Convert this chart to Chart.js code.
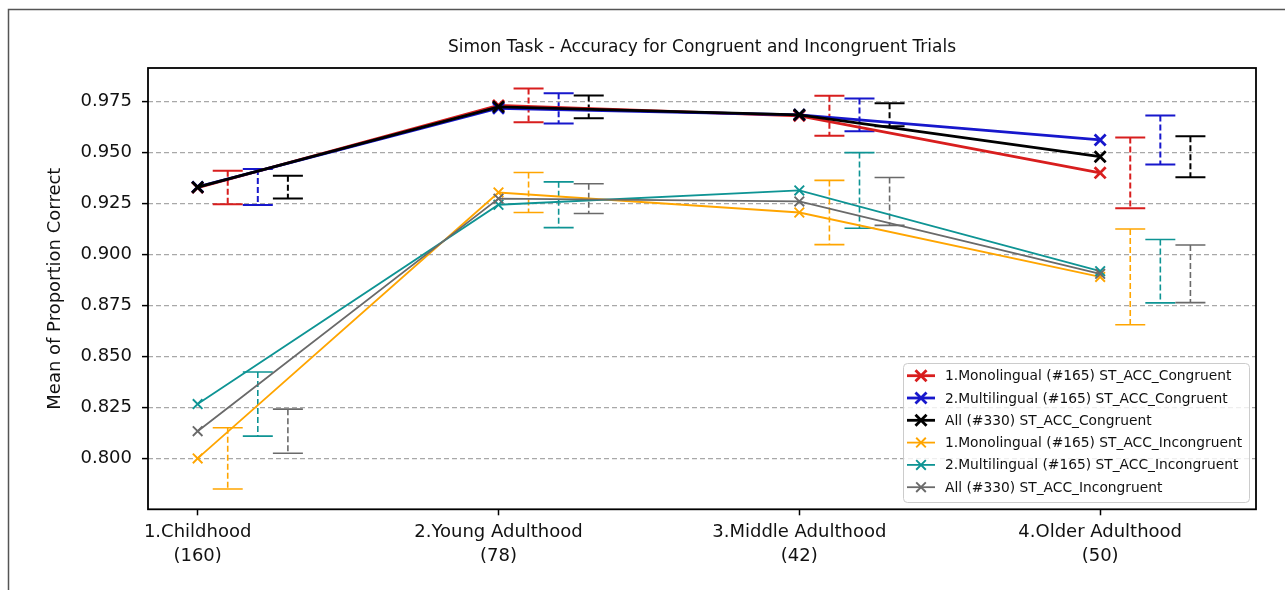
<!DOCTYPE html>
<html>
<head>
<meta charset="utf-8">
<script src="https://cdn.jsdelivr.net/npm/chart.js@4.4.0/dist/chart.umd.min.js"></script>
<style>
  html, body { margin: 0; padding: 0; background: #fff; }
  #wrap { width: 1285px; height: 590px; }
</style>
</head>
<body>
<div id="wrap"><canvas id="simonChart" width="1285" height="590"></canvas></div>
<script>
// Age groups on the x axis (name, group size)
const ageGroups = [
    ['1.Childhood', '(160)'],
    ['2.Young Adulthood', '(78)'],
    ['3.Middle Adulthood', '(42)'],
    ['4.Older Adulthood', '(50)']
];

// Mean proportion correct - congruent trials
const monoCongruent = [0.9327, 0.9729, 0.9678, 0.9399];
const multiCongruent = [0.9330, 0.9715, 0.9683, 0.9560];
const allCongruent = [0.9329, 0.9722, 0.9683, 0.9478];

// Mean proportion correct - incongruent trials
const monoIncongruent = [0.8002, 0.9303, 0.9205, 0.8890];
const multiIncongruent = [0.8268, 0.9243, 0.9313, 0.8918];
const allIncongruent = [0.8135, 0.9273, 0.9259, 0.8905];

// Half length of the error bars
const monoCongruentErr = [0.0082, 0.0083, 0.0098, 0.0173];
const multiCongruentErr = [0.0088, 0.0074, 0.0080, 0.0120];
const allCongruentErr = [0.0056, 0.0056, 0.0056, 0.0100];
const monoIncongruentErr = [0.0150, 0.0098, 0.0157, 0.0234];
const multiIncongruentErr = [0.0157, 0.0112, 0.0185, 0.0155];
const allIncongruentErr = [0.0108, 0.0073, 0.0117, 0.0141];

const yTicks = [0.800, 0.825, 0.850, 0.875, 0.900, 0.925, 0.950, 0.975];

const FONT = "'DejaVu Sans', sans-serif";

// Build one line dataset
function makeSeries(label, values, errors, color, shift, thick, order) {
    return {
        label: label,
        data: values.map((v, i) => ({ x: i, y: v })),
        errors: errors,
        errShift: shift,
        borderColor: color,
        backgroundColor: color,
        borderWidth: thick ? 2.8 : 1.8,
        pointStyle: 'crossRot',
        pointRadius: thick ? 7.8 : 6.8,
        pointHoverRadius: thick ? 7.8 : 6.8,
        pointBorderWidth: thick ? 2.8 : 1.9,
        pointBorderColor: color,
        tension: 0,
        fill: false,
        order: order
    };
}

// Error bars, drawn next to each point (dashed stem, solid caps)
const errorBarPlugin = {
    id: 'errorBars',
    beforeDatasetsDraw(chart) {
        let ctx = chart.ctx;
        let xs = chart.scales.x, ys = chart.scales.y;
        chart.data.datasets.forEach(ds => {
            ctx.save();
            ctx.strokeStyle = ds.borderColor;
            ctx.lineWidth = ds.borderWidth > 2 ? 2 : 1.6;
            ds.data.forEach((p, i) => {
                let x = xs.getPixelForValue(p.x + ds.errShift);
                let yTop = ys.getPixelForValue(p.y + ds.errors[i]);
                let yBot = ys.getPixelForValue(p.y - ds.errors[i]);
                ctx.setLineDash([6, 3]);
                ctx.beginPath();
                ctx.moveTo(x, yTop);
                ctx.lineTo(x, yBot);
                ctx.stroke();
                ctx.setLineDash([]);
                ctx.beginPath();
                ctx.moveTo(x - 15, yTop); ctx.lineTo(x + 15, yTop);
                ctx.moveTo(x - 15, yBot); ctx.lineTo(x + 15, yBot);
                ctx.stroke();
            });
            ctx.restore();
        });
    }
};

function drawCross(ctx, x, y, r, color, width) {
    let d = r * Math.SQRT1_2;
    ctx.strokeStyle = color;
    ctx.lineWidth = width;
    ctx.beginPath();
    ctx.moveTo(x - d, y - d); ctx.lineTo(x + d, y + d);
    ctx.moveTo(x - d, y + d); ctx.lineTo(x + d, y - d);
    ctx.stroke();
}

// Outer frame, plot spines, title and legend box
const decorPlugin = {
    id: 'decor',
    beforeDraw(chart) {
        let ctx = chart.ctx;
        ctx.save();
        ctx.fillStyle = '#fff';
        ctx.fillRect(0, 0, chart.width, chart.height);
        ctx.strokeStyle = '#555';
        ctx.lineWidth = 1.5;
        ctx.beginPath();
        ctx.moveTo(8.5, chart.height);
        ctx.lineTo(8.5, 9.5);
        ctx.lineTo(chart.width, 9.5);
        ctx.stroke();
        ctx.restore();
    },
    afterDraw(chart) {
        let ctx = chart.ctx;
        let a = chart.chartArea;
        ctx.save();
        ctx.strokeStyle = '#000';
        ctx.lineWidth = 1.8;
        ctx.strokeRect(a.left, a.top, a.right - a.left, a.bottom - a.top);

        // title
        ctx.fillStyle = '#111';
        ctx.font = '17px ' + FONT;
        ctx.textAlign = 'center';
        ctx.textBaseline = 'middle';
        ctx.fillText('Simon Task - Accuracy for Congruent and Incongruent Trials', (a.left + a.right) / 2, 48);

        // legend
        let bx = 903, by = 363, bw = 346, bh = 139;
        ctx.fillStyle = 'rgba(255,255,255,0.8)';
        ctx.strokeStyle = '#cccccc';
        ctx.lineWidth = 1;
        ctx.beginPath();
        ctx.roundRect(bx + 0.5, by + 0.5, bw, bh, 4);
        ctx.fill();
        ctx.stroke();
        ctx.font = '13.8px ' + FONT;
        ctx.textAlign = 'left';
        chart.data.datasets.forEach((ds, i) => {
            let y = 375.7 + i * 22.3;
            ctx.strokeStyle = ds.borderColor;
            ctx.lineWidth = ds.borderWidth;
            ctx.beginPath();
            ctx.moveTo(907, y); ctx.lineTo(935, y);
            ctx.stroke();
            drawCross(ctx, 921, y, ds.pointRadius, ds.borderColor, ds.pointBorderWidth);
            ctx.fillStyle = '#111';
            ctx.fillText(ds.label, 945, y + 1);
        });
        ctx.restore();
    }
};

let ctx = document.getElementById('simonChart').getContext('2d');
new Chart(ctx, {
    type: 'line',
    data: {
        datasets: [
            makeSeries('1.Monolingual (#165) ST_ACC_Congruent', monoCongruent, monoCongruentErr, '#d81e1e', 0.1, true, 6),
            makeSeries('2.Multilingual (#165) ST_ACC_Congruent', multiCongruent, multiCongruentErr, '#1717cc', 0.2, true, 5),
            makeSeries('All (#330) ST_ACC_Congruent', allCongruent, allCongruentErr, '#000000', 0.3, true, 4),
            makeSeries('1.Monolingual (#165) ST_ACC_Incongruent', monoIncongruent, monoIncongruentErr, '#ffa500', 0.1, false, 3),
            makeSeries('2.Multilingual (#165) ST_ACC_Incongruent', multiIncongruent, multiIncongruentErr, '#0e9494', 0.2, false, 2),
            makeSeries('All (#330) ST_ACC_Incongruent', allIncongruent, allIncongruentErr, '#6a6a6a', 0.3, false, 1)
        ]
    },
    options: {
        responsive: false,
        animation: false,
        devicePixelRatio: 1,
        layout: { padding: { left: 0, right: 29, top: 68, bottom: 0 } },
        plugins: {
            legend: { display: false },
            tooltip: { enabled: false },
            title: { display: false }
        },
        scales: {
            x: {
                type: 'linear',
                min: -0.165,
                max: 3.518,
                afterBuildTicks: s => { s.ticks = ageGroups.map((g, i) => ({ value: i })); },
                afterFit: s => { s.height = 80.7; },
                ticks: {
                    callback: v => ageGroups[v],
                    font: { family: FONT, size: 18, lineHeight: 1.28 },
                    color: '#111',
                    padding: 6,
                    maxRotation: 0,
                    autoSkip: false
                },
                grid: { drawOnChartArea: false, tickLength: 6, tickColor: '#000', tickWidth: 1.5 },
                border: { display: false }
            },
            y: {
                min: 0.7753,
                max: 0.9912,
                afterBuildTicks: s => { s.ticks = yTicks.map(v => ({ value: v })); },
                afterFit: s => { s.width = 148; },
                ticks: {
                    callback: v => v.toFixed(3),
                    font: { family: FONT, size: 18 },
                    color: '#111',
                    padding: 10
                },
                grid: { color: '#a8a8a8', lineWidth: 1.2, tickLength: 6, tickColor: '#000', tickWidth: 1.5 },
                border: { display: false, dash: [5, 3] },
                title: {
                    display: true,
                    text: 'Mean of Proportion Correct',
                    font: { family: FONT, size: 18 },
                    color: '#111',
                    padding: { top: 45, bottom: 0 }
                }
            }
        }
    },
    plugins: [errorBarPlugin, decorPlugin]
});
</script>
</body>
</html>
